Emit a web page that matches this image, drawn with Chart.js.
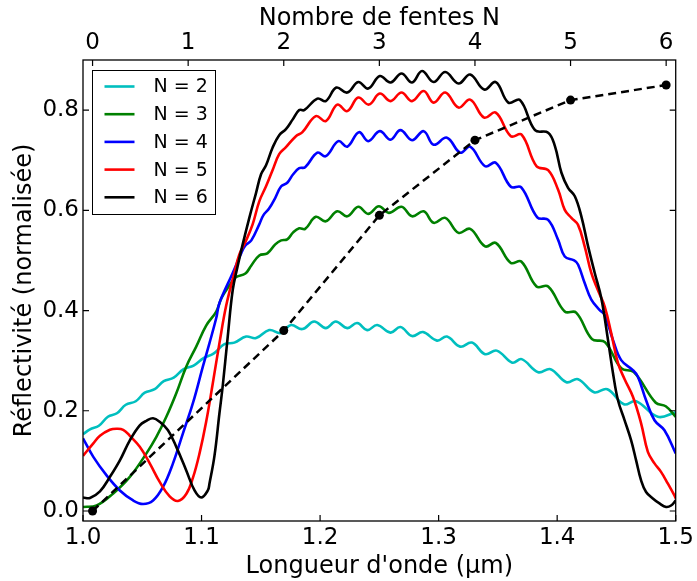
<!DOCTYPE html>
<html><head><meta charset="utf-8">
<script src="https://cdn.jsdelivr.net/npm/chart.js@4/dist/chart.umd.min.js"></script>
<style>html,body{margin:0;padding:0;background:#fff;}canvas{display:block;}</style>
</head><body>
<canvas id="c" width="697" height="581"></canvas>
<script>
// ---- data ----
const lamN2 = [1.0000,1.0059,1.0134,1.0210,1.0286,1.0361,1.0445,1.0521,1.0605,1.0681,1.0765,1.0849,1.0933,1.1017,1.1101,1.1193,1.1277,1.1376,1.1460,1.1571,1.1670,1.1754,1.1851,1.1950,1.2048,1.2132,1.2229,1.2313,1.2397,1.2482,1.2594,1.2678,1.2776,1.2868,1.2986,1.3070,1.3182,1.3280,1.3392,1.3490,1.3622,1.3700,1.3840,1.3944,1.4078,1.4176,1.4311,1.4423,1.4563,1.4666,1.4849,1.5000];
const rN2   = [0.153,0.163,0.170,0.188,0.195,0.212,0.219,0.236,0.243,0.259,0.266,0.283,0.290,0.305,0.314,0.333,0.336,0.348,0.345,0.361,0.355,0.371,0.363,0.378,0.365,0.378,0.365,0.375,0.361,0.371,0.356,0.367,0.349,0.357,0.340,0.348,0.328,0.336,0.313,0.320,0.296,0.303,0.277,0.283,0.257,0.263,0.237,0.243,0.213,0.219,0.188,0.197];

const lamN3 = [1.0000,1.0115,1.0255,1.0395,1.0535,1.0619,1.0703,1.0787,1.0871,1.0955,1.1039,1.1124,1.1168,1.1235,1.1286,1.1370,1.1420,1.1487,1.1555,1.1622,1.1672,1.1723,1.1773,1.1824,1.1874,1.1964,1.2048,1.2145,1.2229,1.2322,1.2406,1.2496,1.2580,1.2687,1.2776,1.2874,1.2958,1.3056,1.3168,1.3266,1.3392,1.3482,1.3609,1.3697,1.3826,1.3924,1.4064,1.4160,1.4294,1.4403,1.4540,1.4647,1.4832,1.4916,1.5000];
const rN3   = [0.008,0.011,0.035,0.068,0.115,0.148,0.188,0.235,0.288,0.328,0.370,0.398,0.425,0.450,0.466,0.474,0.490,0.510,0.514,0.532,0.540,0.542,0.556,0.564,0.563,0.587,0.578,0.598,0.588,0.607,0.593,0.608,0.595,0.607,0.588,0.598,0.575,0.585,0.555,0.563,0.528,0.535,0.495,0.498,0.448,0.448,0.398,0.396,0.343,0.337,0.285,0.277,0.216,0.209,0.188];

const lamN4 = [1.0000,1.0087,1.0199,1.0311,1.0423,1.0507,1.0591,1.0675,1.0759,1.0843,1.0927,1.1011,1.1067,1.1124,1.1151,1.1263,1.1336,1.1370,1.1420,1.1487,1.1521,1.1571,1.1622,1.1672,1.1723,1.1773,1.1824,1.1874,1.1977,1.2048,1.2154,1.2229,1.2328,1.2406,1.2504,1.2594,1.2678,1.2776,1.2874,1.2958,1.3070,1.3182,1.3266,1.3392,1.3482,1.3609,1.3697,1.3832,1.3924,1.4008,1.4064,1.4143,1.4176,1.4232,1.4288,1.4359,1.4401,1.4471,1.4540,1.4639,1.4681,1.4750,1.4821,1.4905,1.5000];
const rN4   = [0.145,0.108,0.071,0.041,0.021,0.014,0.021,0.048,0.095,0.155,0.215,0.288,0.335,0.385,0.415,0.475,0.515,0.530,0.540,0.572,0.590,0.604,0.625,0.648,0.655,0.672,0.684,0.686,0.715,0.708,0.738,0.727,0.756,0.738,0.758,0.741,0.760,0.740,0.758,0.731,0.745,0.715,0.727,0.688,0.695,0.647,0.646,0.586,0.581,0.541,0.508,0.500,0.492,0.455,0.422,0.401,0.391,0.341,0.301,0.281,0.268,0.221,0.181,0.161,0.115];

const lamN5 = [1.0000,1.0087,1.0143,1.0227,1.0283,1.0339,1.0395,1.0479,1.0563,1.0647,1.0731,1.0801,1.0871,1.0927,1.0983,1.1039,1.1095,1.1151,1.1208,1.1277,1.1319,1.1376,1.1431,1.1487,1.1544,1.1599,1.1655,1.1712,1.1796,1.1851,1.1964,1.2048,1.2145,1.2229,1.2322,1.2412,1.2504,1.2594,1.2687,1.2776,1.2874,1.2958,1.3056,1.3168,1.3266,1.3384,1.3482,1.3609,1.3700,1.3826,1.3924,1.4008,1.4064,1.4120,1.4176,1.4232,1.4288,1.4345,1.4401,1.4456,1.4513,1.4569,1.4639,1.4708,1.4765,1.4821,1.4876,1.4933,1.4989,1.5000];
const rN5   = [0.110,0.135,0.150,0.162,0.164,0.162,0.150,0.128,0.095,0.058,0.029,0.020,0.034,0.066,0.115,0.178,0.255,0.335,0.410,0.475,0.512,0.540,0.572,0.618,0.648,0.680,0.712,0.726,0.748,0.756,0.788,0.778,0.811,0.798,0.825,0.811,0.833,0.818,0.835,0.818,0.838,0.815,0.835,0.805,0.821,0.785,0.795,0.748,0.751,0.688,0.680,0.641,0.601,0.585,0.571,0.528,0.475,0.440,0.408,0.355,0.295,0.263,0.228,0.175,0.118,0.095,0.078,0.055,0.031,0.025];

const lamN6 = [1.0000,1.0059,1.0143,1.0227,1.0311,1.0395,1.0479,1.0535,1.0591,1.0647,1.0717,1.0787,1.0871,1.0941,1.0997,1.1053,1.1067,1.1109,1.1151,1.1179,1.1221,1.1263,1.1303,1.1345,1.1403,1.1460,1.1502,1.1544,1.1599,1.1655,1.1712,1.1768,1.1824,1.1866,1.1977,1.2048,1.2137,1.2229,1.2322,1.2406,1.2504,1.2594,1.2687,1.2776,1.2860,1.2958,1.3056,1.3168,1.3266,1.3384,1.3482,1.3588,1.3687,1.3813,1.3924,1.3981,1.4036,1.4092,1.4149,1.4204,1.4261,1.4317,1.4372,1.4429,1.4471,1.4513,1.4569,1.4624,1.4666,1.4708,1.4750,1.4807,1.4863,1.4919,1.4961,1.5000];
const rN6   = [0.027,0.026,0.039,0.068,0.101,0.141,0.171,0.180,0.185,0.178,0.161,0.128,0.081,0.041,0.027,0.041,0.055,0.110,0.195,0.250,0.348,0.441,0.487,0.530,0.585,0.635,0.672,0.690,0.725,0.750,0.762,0.781,0.800,0.800,0.823,0.818,0.845,0.835,0.856,0.843,0.868,0.855,0.873,0.855,0.878,0.856,0.876,0.853,0.871,0.841,0.856,0.815,0.820,0.760,0.755,0.728,0.675,0.645,0.628,0.588,0.528,0.475,0.425,0.341,0.275,0.221,0.181,0.141,0.101,0.061,0.038,0.025,0.015,0.008,0.011,0.021];

const nSlits = [0, 2, 3, 4, 5, 6];
const rPeak  = [0.00, 0.36, 0.59, 0.74, 0.82, 0.85];

const seriesLabels = ['N = 2','N = 3','N = 4','N = 5','N = 6'];
const xTickValues = [1.0, 1.1, 1.2, 1.3, 1.4, 1.5];
const nTickValues = [0, 1, 2, 3, 4, 5, 6];
const yTickValues = [0.0, 0.2, 0.4, 0.6, 0.8];

// ---- styles ----
const seriesColors = ['#00bfbf','#008000','#0000ff','#ff0000','#000000'];
const lams = [lamN2, lamN3, lamN4, lamN5, lamN6];
const rs   = [rN2, rN3, rN4, rN5, rN6];

Chart.defaults.font.family = '"DejaVu Sans", sans-serif';
Chart.defaults.color = '#000';

const zip = (xs, ys) => xs.map((x, i) => ({x, y: ys[i]}));

const datasets = [{
  label: 'peak',
  data: zip(nSlits, rPeak),
  xAxisID: 'x2', yAxisID: 'y',
  borderColor: '#000', backgroundColor: '#000',
  borderWidth: 2.5, borderDash: [8, 5],
  pointRadius: 4.5, pointBackgroundColor: '#000', pointBorderWidth: 0,
  tension: 0, order: 0, clip: 0
}];
seriesLabels.forEach((lab, i) => {
  datasets.push({
    label: lab,
    data: zip(lams[i], rs[i]),
    xAxisID: 'x', yAxisID: 'y',
    borderColor: seriesColors[i], backgroundColor: seriesColors[i],
    borderWidth: 2.6, pointRadius: 0,
    tension: 0.4,
    order: 5 - i, clip: 0
  });
});

const decor = {
  id: 'decor',
  afterDatasetsDraw(chart) {
    const {ctx, chartArea: a, scales} = chart;
    ctx.save();
    ctx.strokeStyle = '#000';
    ctx.lineWidth = 1.3;
    ctx.strokeRect(a.left, a.top, a.right - a.left, a.bottom - a.top);
    const tl = 6;
    ctx.lineWidth = 1.2;
    ctx.beginPath();
    xTickValues.forEach(v => { const p = scales.x.getPixelForValue(v); ctx.moveTo(p, a.bottom); ctx.lineTo(p, a.bottom - tl); });
    nTickValues.forEach(v => { const p = scales.x2.getPixelForValue(v); ctx.moveTo(p, a.top); ctx.lineTo(p, a.top + tl); });
    yTickValues.forEach(v => { const p = scales.y.getPixelForValue(v);
      ctx.moveTo(a.left, p); ctx.lineTo(a.left + tl, p);
      ctx.moveTo(a.right, p); ctx.lineTo(a.right - tl, p); });
    ctx.stroke();
    // legend
    const bx = Math.round(a.left + 9) + 0.5, by = Math.round(a.top + 10) + 0.5, bw = 123, bh = 144;
    ctx.fillStyle = '#fff';
    ctx.fillRect(bx, by, bw, bh);
    ctx.lineWidth = 1;
    ctx.strokeRect(bx, by, bw, bh);
    ctx.font = '19px "DejaVu Sans"';
    ctx.textBaseline = 'middle';
    ctx.textAlign = 'left';
    seriesLabels.forEach((lab, i) => {
      const yy = by + 16 + i * 27.7;
      ctx.strokeStyle = seriesColors[i];
      ctx.lineWidth = 2.6;
      ctx.beginPath(); ctx.moveTo(bx + 12, yy); ctx.lineTo(bx + 42, yy); ctx.stroke();
      ctx.fillStyle = '#000';
      ctx.fillText(lab, bx + 61, yy + 1);
    });
    ctx.restore();
  }
};

new Chart(document.getElementById('c'), {
  type: 'line',
  data: { datasets },
  options: {
    responsive: false, animation: false, devicePixelRatio: 1,
    layout: { padding: { left: 0, right: 19, top: 0, bottom: 0 } },
    plugins: { legend: { display: false }, tooltip: { enabled: false } },
    scales: {
      x: {
        type: 'linear', position: 'bottom', min: 1.0, max: 1.5,
        afterBuildTicks: s => { s.ticks = xTickValues.map(v => ({value: v})); },
        afterFit: s => { s.height = 60; },
        grid: { display: false, drawTicks: false }, border: { display: false },
        ticks: { autoSkip: false, maxRotation: 0, padding: 3, font: { size: 23 }, callback: v => Number(v).toFixed(1) },
        title: { display: true, text: "Longueur d'onde (µm)", font: { size: 24 }, padding: { top: 0, bottom: 0 } }
      },
      x2: {
        type: 'linear', position: 'top', min: -0.1, max: 6.1,
        afterBuildTicks: s => { s.ticks = nTickValues.map(v => ({value: v})); },
        afterFit: s => { s.height = 60; },
        grid: { display: false, drawTicks: false }, border: { display: false },
        ticks: { autoSkip: false, maxRotation: 0, padding: 3, font: { size: 23 }, callback: v => String(v) },
        title: { display: true, text: 'Nombre de fentes N', font: { size: 24 }, padding: { top: 4, bottom: 0 } }
      },
      y: {
        type: 'linear', position: 'left', min: -0.02, max: 0.9,
        afterBuildTicks: s => { s.ticks = yTickValues.map(v => ({value: v})); },
        afterFit: s => { s.width = 83; },
        grid: { display: false, drawTicks: false }, border: { display: false },
        ticks: { autoSkip: false, padding: 4, font: { size: 23 }, callback: v => Number(v).toFixed(1) },
        title: { display: true, text: 'Réflectivité (normalisée)', font: { size: 24 }, padding: { top: 10, bottom: 0 } }
      }
    }
  },
  plugins: [decor]
});
</script>
</body></html>
